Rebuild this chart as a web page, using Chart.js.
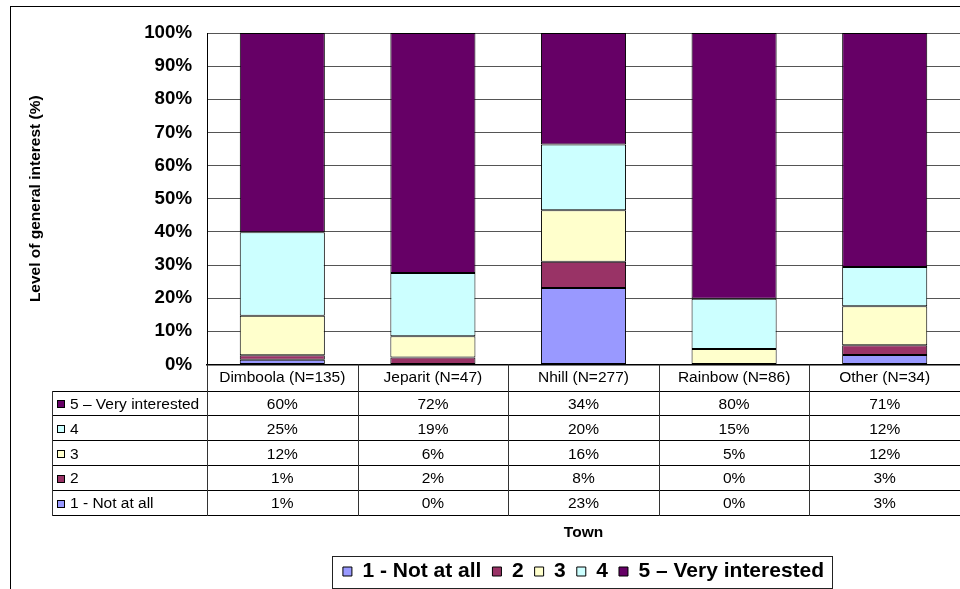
<!DOCTYPE html>
<html><head><meta charset="utf-8">
<script src="https://cdn.jsdelivr.net/npm/chart.js@4.4.1/dist/chart.umd.min.js"></script>
<style>html,body{margin:0;padding:0;background:#fff;} canvas{display:block;}</style>
</head><body>
<canvas id="c" width="960" height="589"></canvas>
<script>
// ---- data ----
const towns = ['Dimboola (N=135)', 'Jeparit (N=47)', 'Nhill (N=277)', 'Rainbow (N=86)', 'Other (N=34)'];
const seriesNames = ['1 - Not at all', '2', '3', '4', '5 – Very interested'];
const notAtAll       = [1.4, 0.0, 23.1, 0.0, 2.9];
const level2         = [1.4, 2.1, 7.9, 0.0, 2.9];
const level3         = [11.9, 6.4, 15.5, 4.7, 11.8];
const level4         = [25.2, 19.1, 19.9, 15.1, 11.8];
const veryInterested = [60.1, 72.4, 33.6, 80.2, 70.6];
const seriesColors = ['#9999FF', '#993366', '#FFFFCC', '#CCFFFF', '#660066'];
const yMin = 0, yMax = 100, yStep = 10;
const xTitle = 'Town';
const yTitle = 'Level of general interest (%)';

const FONT = "'Liberation Sans', Arial, sans-serif";
Chart.defaults.font.family = FONT;
Chart.defaults.color = '#000';

const seriesValues = [notAtAll, level2, level3, level4, veryInterested];
const datasets = seriesValues.map((vals, i) => ({
  label: seriesNames[i],
  data: vals,
  backgroundColor: seriesColors[i],
  borderColor: '#000',
  borderWidth: 1,
  borderSkipped: false,
  categoryPercentage: 1,
  barPercentage: 0.565
}));

const framePlugin = {
  id: 'frame',
  beforeDraw(chart) {
    const ctx = chart.ctx;
    ctx.save();
    ctx.fillStyle = '#fff';
    ctx.fillRect(0, 0, chart.width, chart.height);
    ctx.strokeStyle = '#000';
    ctx.lineWidth = 1;
    ctx.strokeRect(10.5, 6.5, chart.width + 50, chart.height + 50);
    ctx.restore();
  }
};

const legendPlugin = {
  id: 'legendFrame',
  afterLayout(chart) {
    const lg = chart.legend, ca = chart.chartArea;
    lg.left = ca.left; lg.right = ca.right; lg.width = ca.right - ca.left;
    lg.top += 3; lg.bottom += 3;
  },
  afterDraw(chart) {
    const lg = chart.legend, hb = lg.legendHitBoxes;
    if (!hb || !hb.length) return;
    const last = hb[hb.length - 1];
    const cy = hb[0].top + hb[0].height / 2;
    const l = Math.round(hb[0].left - 11) + 0.5;
    const r = Math.round(last.left + last.width + 8) + 0.5;
    const t = Math.round(cy - 16) + 0.5;
    const ctx = chart.ctx;
    ctx.save();
    ctx.strokeStyle = '#222';
    ctx.lineWidth = 1;
    ctx.strokeRect(l, t, r - l, 32);
    ctx.restore();
  }
};

const tablePlugin = {
  id: 'dataTable',
  afterDraw(chart) {
    const ctx = chart.ctx, ca = chart.chartArea, x = chart.scales.x;
    const n = towns.length;
    const colW = (x.right - x.left) / n;
    const headerH = 26, rowH = 24.9;
    const tableTop = ca.bottom + headerH;
    const nRows = chart.data.datasets.length;
    const tableBottom = tableTop + rowH * nRows;
    const labelLeft = 52;
    ctx.save();
    ctx.strokeStyle = '#000';
    ctx.lineWidth = 1;
    ctx.beginPath();
    for (let r = 0; r <= nRows; r++) {
      const y = Math.round(tableTop + r * rowH) + 0.5;
      ctx.moveTo(labelLeft, y); ctx.lineTo(x.right, y);
    }
    ctx.stroke();
    ctx.strokeStyle = '#333';
    ctx.beginPath();
    for (let i = 0; i <= n; i++) {
      const xx = Math.round(x.left + i * colW) + 0.5;
      ctx.moveTo(xx, ca.bottom); ctx.lineTo(xx, Math.round(tableBottom) + 1);
    }
    const lx = labelLeft + 0.5;
    ctx.moveTo(lx, Math.round(tableTop)); ctx.lineTo(lx, Math.round(tableBottom) + 1);
    ctx.stroke();

    ctx.font = '15.5px ' + FONT;
    ctx.textBaseline = 'middle';
    ctx.fillStyle = '#000';
    for (let r = 0; r < nRows; r++) {
      const dsIndex = nRows - 1 - r;
      const ds = chart.data.datasets[dsIndex];
      const cy = tableTop + r * rowH + rowH / 2 + 1.5;
      ctx.fillStyle = ds.backgroundColor;
      ctx.fillRect(57.5, Math.round(cy - 4) + 0.5, 7, 7);
      ctx.strokeStyle = '#000';
      ctx.strokeRect(57.5, Math.round(cy - 4) + 0.5, 7, 7);
      ctx.fillStyle = '#000';
      ctx.textAlign = 'left';
      ctx.fillText(ds.label, 70, cy);
      ctx.textAlign = 'center';
      ds.data.forEach((v, i) => {
        ctx.fillText(Math.round(v) + '%', x.getPixelForValue(i), cy);
      });
    }
    ctx.restore();
  }
};

new Chart(document.getElementById('c'), {
  type: 'bar',
  data: { labels: towns, datasets },
  options: {
    responsive: false,
    animation: false,
    events: [],
    layout: { padding: { left: 11, top: 33, right: 0, bottom: 0 } },
    plugins: {
      tooltip: { enabled: false },
      legend: {
        position: 'bottom',
        labels: {
          boxWidth: 9, boxHeight: 9, padding: 11, color: '#000',
          font: { size: 21, weight: 'bold', family: FONT }
        }
      }
    },
    scales: {
      x: {
        stacked: true,
        grid: { display: false, drawTicks: false },
        border: { display: true, color: '#000', width: 1.5 },
        ticks: { font: { size: 15.5 }, color: '#000', padding: 4, maxRotation: 0, autoSkip: false },
        title: { display: true, text: xTitle, color: '#000', font: { size: 15.5, weight: 'bold' }, padding: { top: 0, bottom: 5 } },
        afterFit(s) { s.height = 182.5; }
      },
      y: {
        stacked: true,
        min: yMin, max: yMax,
        ticks: { stepSize: yStep, callback: v => v + '%', font: { size: 18.7, weight: 'bold' }, color: '#000', padding: 15 },
        grid: { color: '#555', drawTicks: false },
        border: { display: true, color: '#000', width: 1 },
        title: { display: true, text: yTitle, color: '#000', font: { size: 15.5, weight: 'bold' }, padding: { top: 15, bottom: 0 } },
        afterFit(s) { s.width = 196; }
      }
    }
  },
  plugins: [framePlugin, legendPlugin, tablePlugin]
});
</script>
</body></html>
